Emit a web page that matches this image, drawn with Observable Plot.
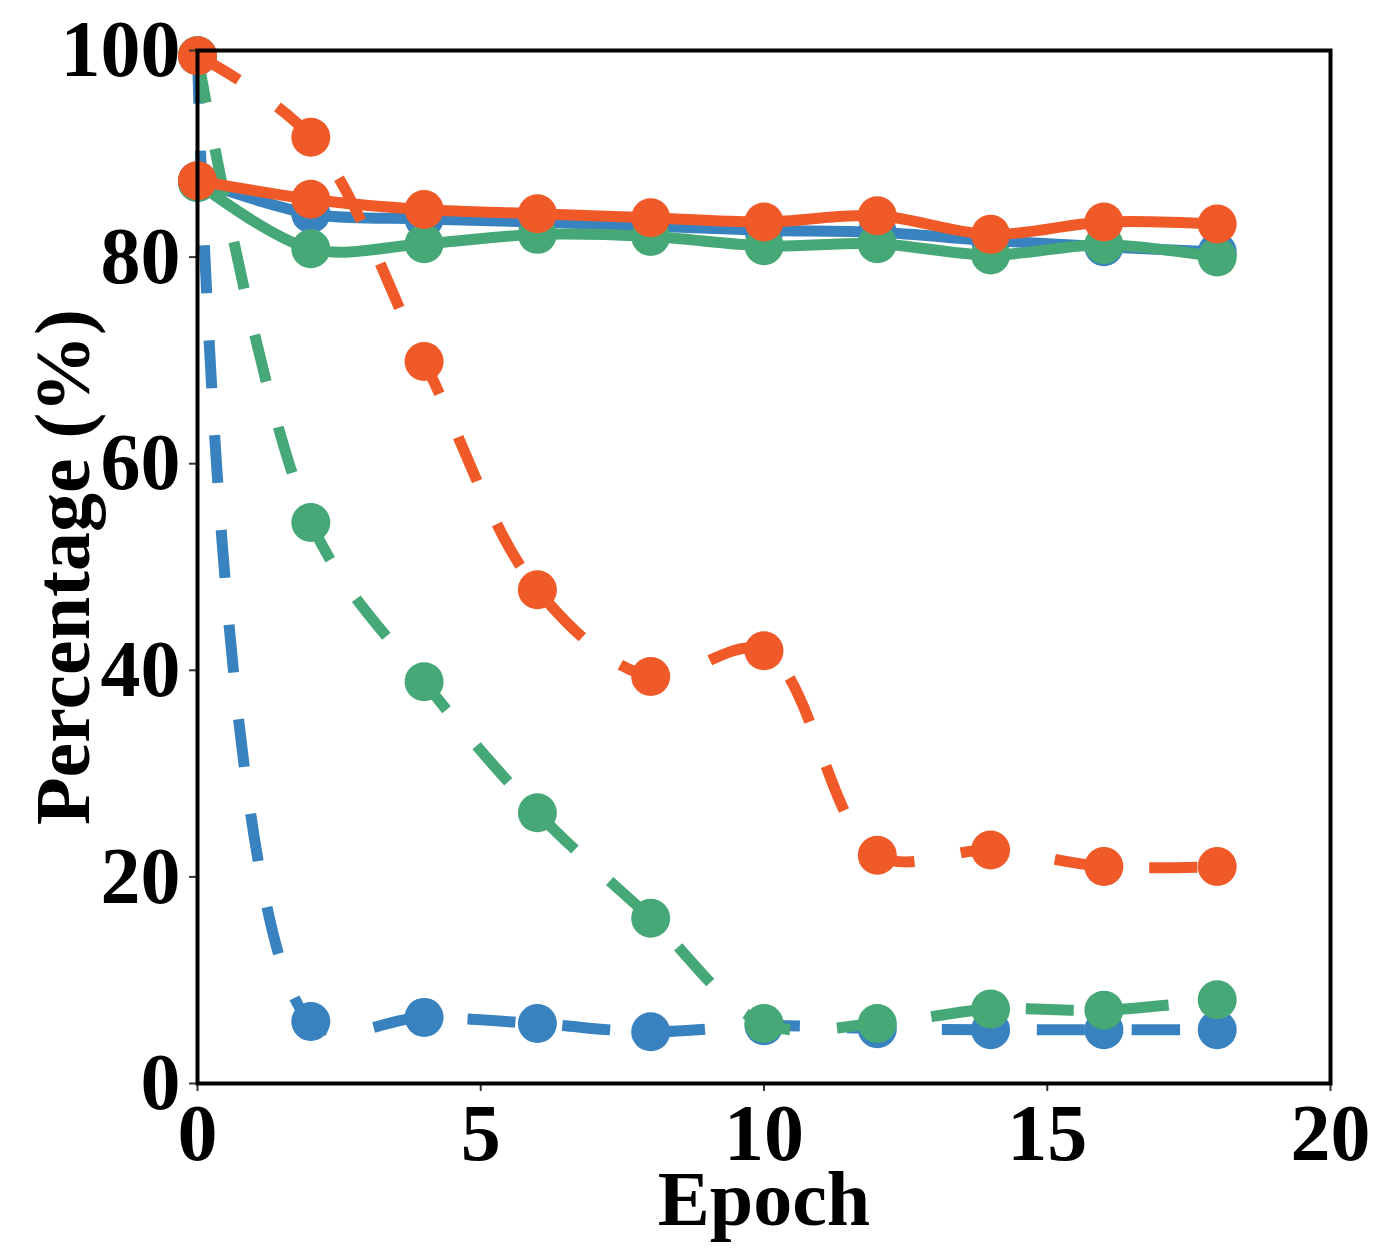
<!DOCTYPE html>
<html>
<head>
<meta charset="utf-8">
<script src="https://cdn.jsdelivr.net/npm/d3@7"></script>
<script src="https://cdn.jsdelivr.net/npm/@observablehq/plot@0.6"></script>
<style>
  html, body { margin: 0; padding: 0; background: #fff; }
  #chart svg { display: block; }
</style>
</head>
<body>
<div id="chart"></div>
<script>
const epochs = [0, 2, 4, 6, 8, 10, 12, 14, 16, 18];
const blueSolid   = [87.4, 84.2, 83.7, 83.4, 83.0, 82.6, 82.4, 81.6, 81.0, 80.5];
const greenSolid  = [87.2, 80.8, 81.3, 82.2, 82.0, 81.1, 81.3, 80.2, 81.2, 80.0];
const redSolid    = [87.4, 85.6, 84.6, 84.2, 83.8, 83.4, 84.0, 82.2, 83.4, 83.2];
const blueDashed  = [99.5, 6.0, 6.4, 5.8, 5.0, 5.6, 5.3, 5.2, 5.2, 5.2];
const greenDashed = [99.5, 54.3, 38.9, 26.2, 16.0, 5.8, 5.8, 7.2, 7.1, 8.1];
const redDashed   = [99.5, 91.6, 69.9, 47.8, 39.4, 41.9, 22.1, 22.6, 21.0, 21.0];
const xTicks = [0, 5, 10, 15, 20];
const yTicks = [0, 20, 40, 60, 80, 100];
const xLabel = "Epoch";
const yLabel = "Percentage (%)";

const colors = { blue: "#3882c0", green: "#46a876", red: "#f05a28" };

const series = [
  { color: colors.blue,  values: blueSolid,   dashed: false },
  { color: colors.blue,  values: blueDashed,  dashed: true },
  { color: colors.green, values: greenSolid,  dashed: false },
  { color: colors.green, values: greenDashed, dashed: true },
  { color: colors.red,   values: redSolid,    dashed: false },
  { color: colors.red,   values: redDashed,   dashed: true }
];

const font = "'Liberation Serif', 'Times New Roman', Times, serif";

const marks = [];
for (const s of series) {
  const data = epochs.map((e, i) => ({ x: e, y: s.values[i] }));
  marks.push(Plot.line(data, {
    x: "x", y: "y", stroke: s.color, strokeWidth: 11,
    curve: "catmull-rom",
    strokeDasharray: s.dashed ? "48,47" : null,
    strokeLinecap: "butt"
  }));
  marks.push(Plot.dot(data, { x: "x", y: "y", r: 19.5, fill: s.color, stroke: "none" }));
}

const chart = Plot.plot({
  width: 1400,
  height: 1260,
  marginLeft: 197,
  marginRight: 70,
  marginTop: 50,
  marginBottom: 177,
  style: { fontFamily: font, fontWeight: "bold", background: "#fff", color: "#000" },
  x: { domain: [0, 20] },
  y: { domain: [0, 100] },
  marks: [
    ...marks,
    Plot.axisX({ ticks: xTicks, tickSize: 8, tickPadding: 12, fontSize: 80, fontWeight: "bold", fontFamily: font, stroke: "#333", strokeWidth: 2, label: null, tickFormat: d => String(d) }),
    Plot.axisY({ ticks: yTicks, tickSize: 8, tickPadding: 9, fontSize: 80, fontWeight: "bold", fontFamily: font, stroke: "#333", strokeWidth: 2, label: null, tickFormat: d => String(d) }),
    Plot.text([xLabel], { frameAnchor: "bottom", dy: 117, lineAnchor: "middle", textAnchor: "middle", text: d => d, fontSize: 78, fontWeight: "bold", fontFamily: font, fill: "#000" }),
    Plot.text([yLabel], { frameAnchor: "left", dx: -133, rotate: -90, lineAnchor: "middle", textAnchor: "middle", text: d => d, fontSize: 78, fontWeight: "bold", fontFamily: font, fill: "#000" }),
    Plot.frame({ stroke: "#000", strokeWidth: 4 })
  ]
});
document.getElementById("chart").appendChild(chart);
</script>
</body>
</html>
